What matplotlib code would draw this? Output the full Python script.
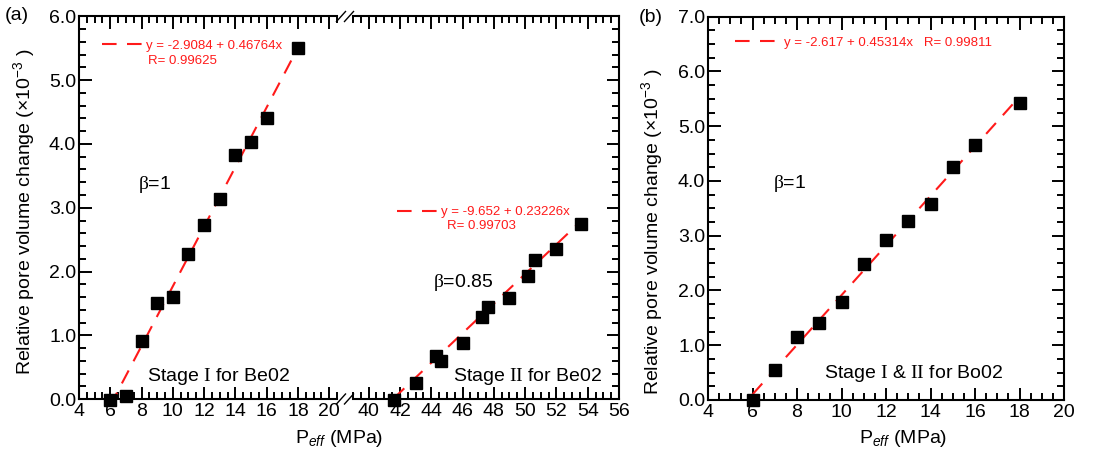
import matplotlib
matplotlib.use("Agg")
import matplotlib.pyplot as plt
from matplotlib.lines import Line2D
from matplotlib.ticker import MultipleLocator, FormatStrFormatter
import numpy as np

plt.rcParams['font.family'] = ['Liberation Sans', 'DejaVu Sans']
plt.rcParams['mathtext.fontset'] = 'custom'
plt.rcParams['mathtext.rm'] = 'Liberation Serif'
plt.rcParams['mathtext.it'] = 'Liberation Sans:italic'
plt.rcParams['mathtext.sf'] = 'Liberation Sans'

# Be02, stage I
p_st1 = [6, 7, 8, 9, 10, 11, 12, 13, 14, 15, 16, 18]
dv_st1 = [-0.02, 0.04, 0.91, 1.51, 1.60, 2.27, 2.73, 3.14, 3.82, 4.03, 4.41, 5.51]
fit_st1 = (-2.9084, 0.46764, 0.99625)

# Be02, stage II
p_st2 = [41.6, 43.0, 44.3, 44.6, 46.0, 47.25, 47.6, 48.95, 50.2, 50.6, 52.0, 53.6]
dv_st2 = [-0.01, 0.25, 0.68, 0.60, 0.88, 1.29, 1.44, 1.58, 1.93, 2.18, 2.35, 2.74]
fit_st2 = (-9.652, 0.23226, 0.99703)

# Bo02, stage I & II
p_bo = [6, 7, 8, 9, 10, 11, 12, 13, 14, 15, 16, 18]
dv_bo = [0.0, 0.54, 1.15, 1.40, 1.79, 2.49, 2.93, 3.27, 3.58, 4.26, 4.66, 5.43]
fit_bo = (-2.617, 0.45314, 0.99811)

W, H = 1101, 454
RED = '#ff1a1a'
DASH = (0, (7, 5))
BETA = r"$\mathrm{\beta}$="


def box(x0, y0, x1, y1):
    # pixel box -> figure fraction
    return [x0 / W, 1 - y1 / H, (x1 - x0) / W, (y1 - y0) / H]


def style(ax, ymin_loc):
    ax.tick_params(which='both', direction='in', top=True, right=True,
                   labelsize=14, width=1.4, pad=3)
    ax.tick_params(which='major', length=9)
    ax.tick_params(which='minor', length=5)
    ax.tick_params(axis='y', pad=2)
    ax.xaxis.set_major_locator(MultipleLocator(2))
    ax.xaxis.set_minor_locator(MultipleLocator(0.5))
    ax.yaxis.set_major_locator(MultipleLocator(1))
    ax.yaxis.set_minor_locator(MultipleLocator(ymin_loc))
    ax.yaxis.set_major_formatter(FormatStrFormatter('%.1f'))
    for s in ax.spines.values():
        s.set_linewidth(1.5)


def fit_line(ax, x, fit):
    xs = np.array([min(x), max(x)])
    ln, = ax.plot(xs, fit[0] + fit[1] * xs, color=RED, lw=1.5, ls=DASH, zorder=2)
    return ln


def eq(fit):
    return "y = %g + %gx" % (fit[0], fit[1])


fig = plt.figure(figsize=(W / 100, H / 100), dpi=100)

axL = fig.add_axes(box(79, 16.5, 337, 399))
axR = fig.add_axes(box(353, 16.5, 619, 399))
axB = fig.add_axes(box(708, 16.7, 1064, 400))

for ax in (axL, axR):
    style(ax, 0.2)
    ax.set_ylim(0, 6)
style(axB, 0.25)
axB.set_ylim(0, 7)

axL.set_xlim(4, 20.5)
axR.set_xlim(39, 56)
axB.set_xlim(4, 20)

axL.spines['right'].set_visible(False)
axL.tick_params(which='both', right=False)
axR.spines['left'].set_visible(False)
axR.tick_params(which='both', left=False, labelleft=False)

mk = dict(marker='s', ms=8, color='black', mec='black', ls='none', zorder=3, clip_on=False)

# stage I
l1 = fit_line(axL, p_st1, fit_st1)
axL.plot(p_st1, dv_st1, **mk)
axL.legend([l1], [eq(fit_st1)], loc='center left', bbox_to_anchor=(5.47, 5.545),
           bbox_transform=axL.transData, frameon=False, fontsize=9.5, labelcolor=RED,
           borderpad=0, borderaxespad=0, handlelength=3, handletextpad=0.35)
axL.text(8.42, 5.30, "R= %g" % fit_st1[2], color=RED, fontsize=9.5, va='center')
axL.text(7.78, 3.36, BETA + "1", fontsize=14, va='center')
axL.text(8.35, 0.36, r"Stage $\mathrm{I}$ for Be02", fontsize=14, va='center')

# stage II
l2 = fit_line(axR, p_st2, fit_st2)
axR.plot(p_st2, dv_st2, **mk)
axR.legend([l2], [eq(fit_st2)], loc='center left', bbox_to_anchor=(41.82, 2.93),
           bbox_transform=axR.transData, frameon=False, fontsize=9.5, labelcolor=RED,
           borderpad=0, borderaxespad=0, handlelength=3, handletextpad=0.35)
axR.text(45.0, 2.71, "R= %g" % fit_st2[2], color=RED, fontsize=9.5, va='center')
axR.text(44.12, 1.82, BETA + "0.85", fontsize=14, va='center')
axR.text(45.4, 0.36, r"Stage $\mathrm{II}$ for Be02", fontsize=14, va='center')

# Bo02
l3 = fit_line(axB, p_bo, fit_bo)
axB.plot(p_bo, dv_bo, **mk)
axB.legend([l3], [eq(fit_bo) + "   R= %g" % fit_bo[2]], loc='center left',
           bbox_to_anchor=(5.21, 6.52), bbox_transform=axB.transData, frameon=False,
           fontsize=9.5, labelcolor=RED, borderpad=0, borderaxespad=0,
           handlelength=3, handletextpad=0.7)
axB.text(6.92, 3.95, BETA + "1", fontsize=14, va='center')
axB.text(9.21, 0.48, r"Stage $\mathrm{I}$ & $\mathrm{II}$ for Bo02", fontsize=14, va='center')

ylab = r"Relative pore volume change (×10$^{\mathsf{-3}}$ )"
axL.set_ylabel(ylab, fontsize=14)
axL.yaxis.set_label_coords(-0.163, 0.49)
axB.set_ylabel(ylab, fontsize=14)
axB.yaxis.set_label_coords(-0.121, 0.44)

xlab = r"P$_{eff}$ (MPa)"
fig.text(339 / W, 1 - 443 / H, xlab, fontsize=14, ha='center', va='baseline')
fig.text(903 / W, 1 - 443 / H, xlab, fontsize=14, ha='center', va='baseline')

fig.text(5 / W, 1 - 16 / H, "(a)", fontsize=14, va='center')
fig.text(639 / W, 1 - 18 / H, "(b)", fontsize=14, va='center')

# axis break marks
for ys in (399, 16.5):
    for xc in (341, 349):
        fig.add_artist(Line2D([(xc - 4.5) / W, (xc + 4.5) / W],
                              [1 - (ys + 5) / H, 1 - (ys - 5) / H],
                              color='black', lw=1.0))

fig.savefig("out.png", dpi=100)
